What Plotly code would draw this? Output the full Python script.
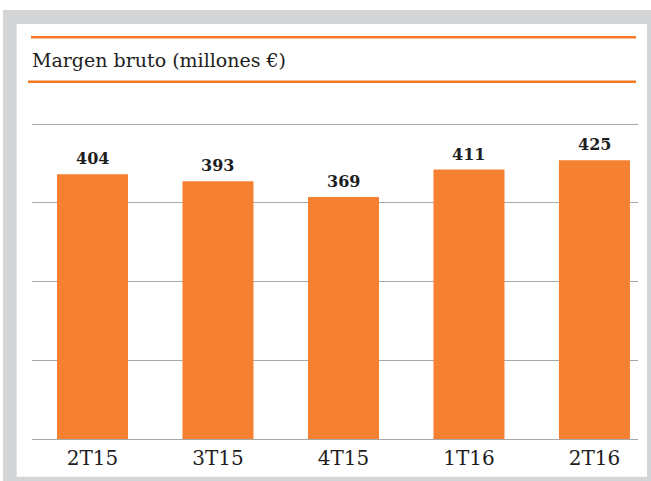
import plotly.graph_objects as go

categories = ["2T15", "3T15", "4T15", "1T16", "2T16"]
values = [404, 393, 369, 411, 425]
title_text = "Margen bruto (millones €)"

W, H = 651, 481
L, R, T, B = 32, 13, 123, 42
PW, PH = W - L - R, H - T - B

def px(x):
    return (x - L) / PW

def py(y):
    return (H - B - y) / PH

BAR = "#F58031"
ORANGE = "#F47A22"
GREY = "#D4D5D6"
TEXT = "#1E1E1E"

fig = go.Figure()
fig.add_trace(go.Bar(
    x=categories, y=values, marker=dict(color=BAR, line=dict(width=0)),
    width=0.566, hoverinfo="skip",
))

shapes = [
    dict(type="rect", xref="paper", yref="paper", x0=px(3), x1=px(651), y0=py(10), y1=py(481),
         fillcolor=GREY, line=dict(width=0), layer="below"),
    dict(type="rect", xref="paper", yref="paper", x0=px(16.7), x1=px(647), y0=py(24), y1=py(476.7),
         fillcolor="white", line=dict(width=0), layer="below"),
    dict(type="line", xref="paper", yref="paper", x0=px(31), x1=px(636), y0=py(37.2), y1=py(37.2),
         line=dict(color=ORANGE, width=2.5)),
    dict(type="line", xref="paper", yref="paper", x0=px(28), x1=px(636), y0=py(81.7), y1=py(81.7),
         line=dict(color=ORANGE, width=2.5)),
]

annotations = [
    dict(xref="paper", yref="paper", x=px(30), y=py(59.5), xanchor="left", yanchor="middle",
         text=title_text, showarrow=False, font=dict(family="DejaVu Serif", size=19, color=TEXT)),
]
for c, v in zip(categories, values):
    annotations.append(dict(x=c, y=v, xref="x", yref="y", text=f"<b>{v}</b>", showarrow=False,
                            xanchor="center", yanchor="bottom", yshift=4,
                            font=dict(family="DejaVu Serif", size=16, color=TEXT)))

fig.update_layout(
    width=W, height=H, margin=dict(l=L, r=R, t=T, b=B, pad=0),
    paper_bgcolor="white", plot_bgcolor="rgba(0,0,0,0)",
    showlegend=False, shapes=shapes, annotations=annotations, hovermode=False,
    xaxis=dict(type="category", range=[-0.482, 4.347], showgrid=False, zeroline=False,
               showline=False, ticks="", ticklabelstandoff=5,
               tickfont=dict(family="DejaVu Serif", size=20, color=TEXT)),
    yaxis=dict(range=[0, 482], dtick=120, showgrid=True, gridcolor="#A8A8A8", gridwidth=1,
               zeroline=True, zerolinecolor="#A8A8A8", zerolinewidth=1,
               showticklabels=False, ticks="", showline=False),
)

fig.write_html("out.html", config={"displayModeBar": False, "staticPlot": True},
               post_script="document.body.style.margin='0';document.body.style.padding='0';")
